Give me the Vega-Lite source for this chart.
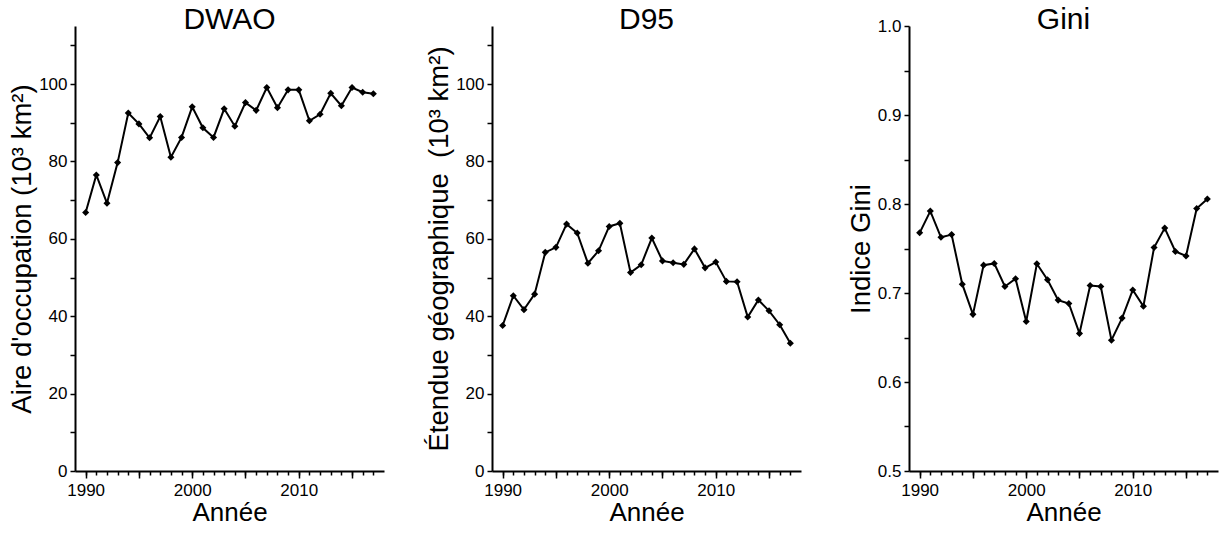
{
  "$schema": "https://vega.github.io/schema/vega-lite/v6.json",
  "padding": {"left": 8, "top": 5, "right": 5, "bottom": 0},
  "bounds": "flush",
  "spacing": 108,
  "datasets": {
    "d": [
      {"year": 1990, "dwao": 66.8, "d95": 37.6, "gini": 0.7676},
      {"year": 1991, "dwao": 76.5, "d95": 45.3, "gini": 0.792},
      {"year": 1992, "dwao": 69.2, "d95": 41.7, "gini": 0.7626},
      {"year": 1993, "dwao": 79.7, "d95": 45.7, "gini": 0.7656},
      {"year": 1994, "dwao": 92.5, "d95": 56.5, "gini": 0.7099},
      {"year": 1995, "dwao": 89.7, "d95": 57.8, "gini": 0.676},
      {"year": 1996, "dwao": 86.1, "d95": 63.8, "gini": 0.7313},
      {"year": 1997, "dwao": 91.6, "d95": 61.5, "gini": 0.7332},
      {"year": 1998, "dwao": 81.1, "d95": 53.7, "gini": 0.7073},
      {"year": 1999, "dwao": 86.2, "d95": 56.9, "gini": 0.716},
      {"year": 2000, "dwao": 94.1, "d95": 63.2, "gini": 0.668},
      {"year": 2001, "dwao": 88.7, "d95": 64.0, "gini": 0.7328},
      {"year": 2002, "dwao": 86.2, "d95": 51.3, "gini": 0.7149},
      {"year": 2003, "dwao": 93.6, "d95": 53.3, "gini": 0.692},
      {"year": 2004, "dwao": 89.1, "d95": 60.2, "gini": 0.6882},
      {"year": 2005, "dwao": 95.2, "d95": 54.3, "gini": 0.6546},
      {"year": 2006, "dwao": 93.2, "d95": 53.8, "gini": 0.7084},
      {"year": 2007, "dwao": 99.1, "d95": 53.4, "gini": 0.7073},
      {"year": 2008, "dwao": 93.9, "d95": 57.4, "gini": 0.647},
      {"year": 2009, "dwao": 98.5, "d95": 52.5, "gini": 0.6718},
      {"year": 2010, "dwao": 98.5, "d95": 54.0, "gini": 0.7034},
      {"year": 2011, "dwao": 90.5, "d95": 49.0, "gini": 0.6851},
      {"year": 2012, "dwao": 92.2, "d95": 48.9, "gini": 0.7511},
      {"year": 2013, "dwao": 97.6, "d95": 39.8, "gini": 0.7729},
      {"year": 2014, "dwao": 94.4, "d95": 44.2, "gini": 0.7466},
      {"year": 2015, "dwao": 99.1, "d95": 41.4, "gini": 0.7416},
      {"year": 2016, "dwao": 97.9, "d95": 37.8, "gini": 0.795},
      {"year": 2017, "dwao": 97.5, "d95": 33.0, "gini": 0.8057}
    ]
  },
  "data": {"name": "d"},
  "hconcat": [
    {
      "width": 309, "height": 445,
      "title": {"text": "DWAO", "offset": -9},
      "encoding": {
        "x": {"field": "year", "type": "quantitative", "scale": {"domain": [1989, 2018], "nice": false, "zero": false},
              "axis": {"orient": "bottom", "values": [1990, 1995, 2000, 2005, 2010, 2015], "format": "d", "labelExpr": "datum.value % 10 === 0 ? datum.label : ''", "tickSize": 7, "labelPadding": 4, "title": "Année", "titleFontSize": 26, "titlePadding": 1}},
        "y": {"field": "dwao", "type": "quantitative", "scale": {"domain": [0, 115], "nice": false},
              "axis": {"values": [0, 10, 20, 30, 40, 50, 60, 70, 80, 90, 100, 110], "labelExpr": "datum.value % 20 === 0 ? datum.label : ''", "title": "Aire d'occupation (10³ km²)"}}
      },
      "layer": [
        {"mark": {"type": "line", "color": "black", "strokeWidth": 2}},
        {"mark": {"type": "point", "shape": "diamond", "filled": true, "color": "black", "opacity": 1, "size": 50},
         "encoding": {"x": {"field": "year", "type": "quantitative", "scale": {"domain": [1989, 2018], "nice": false, "zero": false},
              "axis": {"orient": "bottom", "values": [1990,1991,1992,1993,1994,1995,1996,1997,1998,1999,2000,2001,2002,2003,2004,2005,2006,2007,2008,2009,2010,2011,2012,2013,2014,2015,2016,2017], "labels": false, "domain": false, "title": null, "tickSize": 4}}}}
      ],
      "resolve": {"axis": {"x": "independent"}}
    },
    {
      "width": 309, "height": 445,
      "title": {"text": "D95", "offset": -9},
      "encoding": {
        "x": {"field": "year", "type": "quantitative", "scale": {"domain": [1989, 2018], "nice": false, "zero": false},
              "axis": {"orient": "bottom", "values": [1990, 1995, 2000, 2005, 2010, 2015], "format": "d", "labelExpr": "datum.value % 10 === 0 ? datum.label : ''", "tickSize": 7, "labelPadding": 4, "title": "Année", "titleFontSize": 26, "titlePadding": 1}},
        "y": {"field": "d95", "type": "quantitative", "scale": {"domain": [0, 115], "nice": false},
              "axis": {"values": [0, 10, 20, 30, 40, 50, 60, 70, 80, 90, 100, 110], "labelExpr": "datum.value % 20 === 0 ? datum.label : ''", "title": "Étendue géographique\u00a0 (10³ km²)"}}
      },
      "layer": [
        {"mark": {"type": "line", "color": "black", "strokeWidth": 2}},
        {"mark": {"type": "point", "shape": "diamond", "filled": true, "color": "black", "opacity": 1, "size": 50},
         "encoding": {"x": {"field": "year", "type": "quantitative", "scale": {"domain": [1989, 2018], "nice": false, "zero": false},
              "axis": {"orient": "bottom", "values": [1990,1991,1992,1993,1994,1995,1996,1997,1998,1999,2000,2001,2002,2003,2004,2005,2006,2007,2008,2009,2010,2011,2012,2013,2014,2015,2016,2017], "labels": false, "domain": false, "title": null, "tickSize": 4}}}}
      ],
      "resolve": {"axis": {"x": "independent"}}
    },
    {
      "width": 309, "height": 445,
      "title": {"text": "Gini", "offset": -18},
      "encoding": {
        "x": {"field": "year", "type": "quantitative", "scale": {"domain": [1989, 2018], "nice": false, "zero": false},
              "axis": {"orient": "bottom", "values": [1990, 1995, 2000, 2005, 2010, 2015], "format": "d", "labelExpr": "datum.value % 10 === 0 ? datum.label : ''", "tickSize": 7, "labelPadding": 4, "title": "Année", "titleFontSize": 26, "titlePadding": 1}},
        "y": {"field": "gini", "type": "quantitative", "scale": {"domain": [0.5, 1.0], "nice": false, "zero": false},
              "axis": {"values": [0.5, 0.55, 0.6, 0.65, 0.7, 0.75, 0.8, 0.85, 0.9, 0.95, 1.0], "labelExpr": "round(datum.value * 100) % 10 === 0 ? format(datum.value, '.1f') : ''", "title": "Indice Gini"}}
      },
      "layer": [
        {"mark": {"type": "line", "color": "black", "strokeWidth": 2}},
        {"mark": {"type": "point", "shape": "diamond", "filled": true, "color": "black", "opacity": 1, "size": 50},
         "encoding": {"x": {"field": "year", "type": "quantitative", "scale": {"domain": [1989, 2018], "nice": false, "zero": false},
              "axis": {"orient": "bottom", "values": [1990,1991,1992,1993,1994,1995,1996,1997,1998,1999,2000,2001,2002,2003,2004,2005,2006,2007,2008,2009,2010,2011,2012,2013,2014,2015,2016,2017], "labels": false, "domain": false, "title": null, "tickSize": 4}}}}
      ],
      "resolve": {"axis": {"x": "independent"}}
    }
  ],
  "config": {
    "font": "Liberation Sans",
    "background": "white",
    "view": {"stroke": null},
    "title": {"fontSize": 30, "fontWeight": "normal", "font": "Liberation Sans", "color": "black", "anchor": "middle", "frame": "group", "baseline": "alphabetic"},
    "axis": {
      "grid": false,
      "domainColor": "black", "domainWidth": 2,
      "tickColor": "black", "tickWidth": 1.5, "tickSize": 5,
      "labelColor": "black", "labelFont": "Liberation Sans", "labelFontSize": 17, "labelPadding": 3,
      "titleColor": "black", "titleFont": "Liberation Sans", "titleFontSize": 27.5, "titleFontWeight": "normal", "titlePadding": 2,
      "labelOverlap": false
    }
  }
}
